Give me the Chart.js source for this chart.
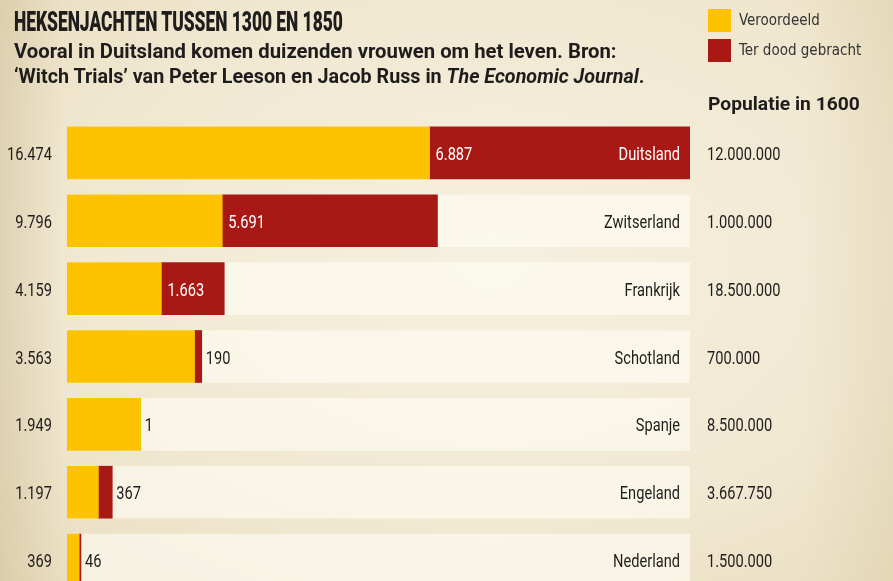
<!DOCTYPE html>
<html>
<head>
<meta charset="utf-8">
<script src="https://cdn.jsdelivr.net/npm/chart.js@4/dist/chart.umd.min.js"></script>
<style>
  html, body { margin: 0; padding: 0; }
  body {
    width: 893px; height: 581px; overflow: hidden;
    background:
      linear-gradient(to right, rgba(196, 178, 138, 0.35), rgba(196, 178, 138, 0) 7%),
      linear-gradient(to left, rgba(210, 192, 150, 0.25), rgba(210, 192, 150, 0) 10%),
      radial-gradient(ellipse at 55% 45%, #f6f0df 0%, #f0e8d1 60%, #e8dcbe 100%);
    color: #1f1c1c;
  }
  #wrap { position: relative; width: 893px; height: 581px; overflow: hidden; }
  #box { position: absolute; left: 0; top: 0; width: 893px; height: 610px; }
  .fit { display: inline-block; transform-origin: left top; white-space: nowrap; position: absolute; }
  #title {
    left: 14px; top: 8px;
    font-family: Roboto, sans-serif; font-weight: 900; font-size: 28px; line-height: 28px;
  }
  .sub {
    left: 14px;
    font-family: Roboto, sans-serif; font-weight: bold; font-size: 20.3px; line-height: 25px;
  }
  .leg { position: absolute; left: 708px; font-family: "DejaVu Sans Condensed", sans-serif; font-size: 15px; color: #333; white-space: nowrap; }
  .leg i { position: absolute; left: 0; top: 0; width: 23px; height: 23px; }
  .leg span { position: absolute; left: 31px; top: 2px; }
  #pop {
    left: 708px; top: 94px;
    font-family: Roboto, sans-serif; font-weight: bold; font-size: 19px; line-height: 19px;
  }
</style>
</head>
<body>
<div id="wrap">
  <div id="box"><canvas id="chart"></canvas></div>
  <div id="title" class="fit">HEKSENJACHTEN TUSSEN 1300 EN 1850</div>
  <div id="sub1" class="fit sub" style="top:38.6px">Vooral in Duitsland komen duizenden vrouwen om het leven. Bron:</div>
  <div id="sub2" class="fit sub" style="top:63.6px">‘Witch Trials’ van Peter Leeson en Jacob Russ in <i>The Economic Journal</i>.</div>
  <div class="leg" style="top:9px"><i style="background:#fdc300"></i><span>Veroordeeld</span></div>
  <div class="leg" style="top:39px"><i style="background:#a81916"></i><span>Ter dood gebracht</span></div>
  <div id="pop" class="fit">Populatie in 1600</div>
</div>
<script>
let countries = ['Duitsland', 'Zwitserland', 'Frankrijk', 'Schotland', 'Spanje', 'Engeland', 'Nederland'];
let convicted = [16474, 9796, 4159, 3563, 1949, 1197, 369];
let executed = [6887, 5691, 1663, 190, 1, 367, 46];
let population = [12000000, 1000000, 18500000, 700000, 8500000, 3667750, 1500000];

let yellow = '#fdc300';
let red = '#a81916';
let dark = '#1f1c1c';

// squeeze the headings to the widths of the original
function fitWidth(id, w) {
    let el = document.getElementById(id);
    el.style.transform = 'scaleX(' + (w / el.offsetWidth) + ')';
}
fitWidth('title', 329);
fitWidth('sub1', 603);
fitWidth('sub2', 631);
fitWidth('pop', 152);

function fmt(n) {
    return String(n).replace(/\B(?=(\d{3})+(?!\d))/g, '.');
}

let xMax = Math.max(...convicted);
let notExecuted = convicted.map((c, i) => c - executed[i]);

// condensed text like the print font
function narrowText(c, text, x, y, align) {
    c.save();
    c.translate(x, y);
    c.scale(0.77, 1);
    c.textAlign = align;
    c.fillText(text, 0, 0);
    c.restore();
}

let barLabels = {
    id: 'barLabels',
    afterDatasetsDraw(chart) {
        let c = chart.ctx;
        let redBars = chart.getDatasetMeta(1).data;
        let yScale = chart.scales.y;
        let area = chart.chartArea;
        c.save();
        c.font = '19px Roboto';
        c.textBaseline = 'alphabetic';
        redBars.forEach((bar, i) => {
            let y = yScale.getPixelForTick(i) + 7;
            let w = bar.x - bar.base;
            if (w > 50) {
                c.fillStyle = '#ffffff';
                narrowText(c, fmt(executed[i]), bar.base + 6, y, 'left');
            } else {
                c.fillStyle = dark;
                narrowText(c, fmt(executed[i]), bar.x + 4, y, 'left');
            }
            let nameX = area.right - 10;
            let tw = c.measureText(countries[i]).width * 0.77;
            c.fillStyle = bar.x > nameX - tw ? '#ffffff' : dark;
            narrowText(c, countries[i], nameX, y, 'right');

            c.fillStyle = dark;
            narrowText(c, fmt(convicted[i]), area.left - 15, y, 'right');
            narrowText(c, fmt(population[i]), area.right + 17, y, 'left');
        });
        c.restore();
    }
};

let ctx = document.getElementById('chart').getContext('2d');
let chart = new Chart(ctx, {
    type: 'bar',
    data: {
        labels: countries,
        datasets: [
            {
                label: 'Veroordeeld',
                data: notExecuted,
                backgroundColor: yellow,
                stack: 'a',
                order: 1
            },
            {
                label: 'Ter dood gebracht',
                data: executed,
                backgroundColor: red,
                stack: 'a',
                order: 1
            },
            {
                label: 'achtergrond',
                data: countries.map(() => xMax),
                backgroundColor: 'rgba(255, 253, 245, 0.6)',
                stack: 'bg',
                order: 3
            }
        ]
    },
    options: {
        indexAxis: 'y',
        responsive: true,
        maintainAspectRatio: false,
        animation: false,
        datasets: { bar: { grouped: false, barThickness: 52, borderWidth: 0 } },
        layout: { padding: { top: 119, bottom: 16, left: 67, right: 203 } },
        plugins: {
            legend: { display: false },
            tooltip: { enabled: false }
        },
        scales: {
            x: { stacked: true, min: 0, max: xMax, display: false },
            y: {
                stacked: true,
                display: true,
                grid: { display: false, drawTicks: false },
                border: { display: false },
                ticks: { display: false },
                afterFit(scale) { scale.width = 0; }
            }
        }
    },
    plugins: [barLabels]
});
</script>
</body>
</html>
